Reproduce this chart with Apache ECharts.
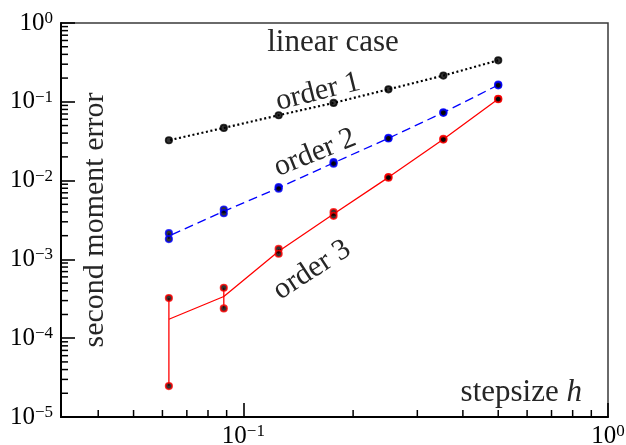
<!DOCTYPE html>
<html><head><meta charset="utf-8">
<script src="https://cdn.jsdelivr.net/npm/echarts@6/dist/echarts.min.js"></script>
<style>html,body{margin:0;padding:0;background:#fff}#c{width:626px;height:445px}</style>
</head><body><div id="c"></div>
<script>
// ---- data ----
const stepsizes = [0.5, 0.3536, 0.25, 0.1768, 0.125, 0.0884, 0.0625];
const order1Err  = [0.336, 0.215, 0.144, 0.0968, 0.0675, 0.0466, 0.0325];
const order2ErrA = [0.165, 0.0735, 0.0348, 0.0172, 0.0083, 0.0043, 0.00215];
const order2ErrB = [0.162, 0.0725, 0.0342, 0.0164, 0.0079, 0.00386, 0.00181];
const order3ErrA = [0.109, 0.0338, 0.0111, 0.00397, 0.00136, 0.000437, 0.000323];
const order3ErrB = [0.108, 0.0332, 0.0109, 0.00357, 0.00118, 0.000239, 0.0000247];
const xMinorTicks = [0.04, 0.05, 0.06, 0.07, 0.08, 0.09, 0.2, 0.3, 0.4, 0.5, 0.6, 0.7, 0.8, 0.9];
const yMinorTicks = [];
[1e-5, 1e-4, 1e-3, 1e-2, 1e-1].forEach(d => { for (let k = 2; k <= 9; k++) yMinorTicks.push(+(k * d).toPrecision(3)); });
const X_MIN = Math.pow(10, -1.5), X_MAX = 1, Y_MIN = 1e-5, Y_MAX = 1;

const FONT = "'Liberation Serif','DejaVu Serif',serif";
const TXT = '#262626';

function pairs(a) { return stepsizes.map((h, i) => [h, a[i]]); }
function means(a, b) { return stepsizes.map((h, i) => [h, (a[i] + b[i]) / 2]); }
function samples(a, b) { return pairs(a).concat(pairs(b)); }
function spans(a, b) { return stepsizes.map((h, i) => [h, a[i], b[i]]); }

function supLabel(v) {
  const l = Math.log10(v), e = Math.round(l);
  if (Math.abs(l - e) > 1e-6) return '';
  return '{b|10}{s|' + (e < 0 ? '\u2212' + (-e) : String(e)) + '}';
}
const labelRich = {
  b: { fontSize: 25, lineHeight: 26, fontFamily: FONT, color: '#000' },
  s: { fontSize: 17, lineHeight: 17, fontFamily: FONT, color: '#000', verticalAlign: 'top' }
};

function spanSeries(a, b, color) {
  return {
    type: 'custom', z: 3, silent: true,
    data: spans(a, b),
    renderItem: function (params, api) {
      const p1 = api.coord([api.value(0), api.value(1)]);
      const p2 = api.coord([api.value(0), api.value(2)]);
      return { type: 'line', shape: { x1: p1[0], y1: p1[1], x2: p2[0], y2: p2[1] },
               style: { stroke: color, lineWidth: 1.3 } };
    }
  };
}
function markerSeries(data, color) {
  return { type: 'scatter', z: 5, data: data, symbol: 'circle', symbolSize: 6.5,
           itemStyle: { color: '#000', borderColor: color, borderWidth: 1.7 } };
}

const chart = echarts.init(document.getElementById('c'), null, { renderer: 'canvas' });
chart.setOption({
  animation: false,
  backgroundColor: '#fff',
  grid: { left: 61, right: 18, top: 23, bottom: 28, containLabel: false, outerBoundsMode: 'none',
          show: true, borderColor: '#3a3a3a', borderWidth: 1.5 },
  xAxis: {
    type: 'log', logBase: 10, min: X_MIN, max: X_MAX,
    name: '{n|stepsize }{i|h}', nameLocation: 'end', nameGap: -26,
    nameTextStyle: { align: 'right', verticalAlign: 'bottom', padding: [0, 0, 9, 0],
      rich: { n: { fontSize: 31, fontFamily: FONT, color: TXT }, i: { fontSize: 31, fontFamily: FONT, fontStyle: 'italic', color: TXT } } },
    axisLine: { show: true, lineStyle: { color: '#000', width: 2 } },
    axisTick: { show: true, inside: true, length: 14, lineStyle: { color: '#000', width: 1.6 } },
    axisLabel: { formatter: supLabel, rich: labelRich, margin: 6, showMinLabel: false, hideOverlap: false },
    splitLine: { show: false }, minorTick: { show: false }
  },
  yAxis: {
    type: 'log', logBase: 10, min: Y_MIN, max: Y_MAX,
    name: 'second moment error', nameLocation: 'middle', nameGap: -34,
    nameTextStyle: { fontSize: 30, fontFamily: FONT, color: TXT, align: 'center', verticalAlign: 'middle' },
    axisLine: { show: true, lineStyle: { color: '#000', width: 2 } },
    axisTick: { show: true, inside: true, length: 14, lineStyle: { color: '#000', width: 1.6 } },
    axisLabel: { formatter: supLabel, rich: labelRich, margin: 8, hideOverlap: false },
    splitLine: { show: false }, minorTick: { show: false }
  },
  graphic: [
    { type: 'text', x: 333, y: 43, style: { text: 'linear case', fontSize: 31, fontFamily: FONT, fill: TXT, align: 'center', verticalAlign: 'middle' } },
    { type: 'text', x: 318, y: 92, rotation: 14 * Math.PI / 180, style: { text: 'order 1', fontSize: 30, fontFamily: FONT, fill: TXT, align: 'center', verticalAlign: 'middle' } },
    { type: 'text', x: 315, y: 153, rotation: 22 * Math.PI / 180, style: { text: 'order 2', fontSize: 30, fontFamily: FONT, fill: TXT, align: 'center', verticalAlign: 'middle' } },
    { type: 'text', x: 312, y: 270, rotation: 33 * Math.PI / 180, style: { text: 'order 3', fontSize: 30, fontFamily: FONT, fill: TXT, align: 'center', verticalAlign: 'middle' } }
  ],
  series: [
    { type: 'custom', z: 2, silent: true, clip: false,
      data: xMinorTicks.map(v => [v, Y_MIN]),
      renderItem: function (params, api) {
        const p = api.coord([api.value(0), api.value(1)]);
        return { type: 'line', shape: { x1: p[0], y1: p[1], x2: p[0], y2: p[1] - 7 }, style: { stroke: '#000', lineWidth: 1.5 } };
      } },
    { type: 'custom', z: 2, silent: true, clip: false,
      data: yMinorTicks.map(v => [X_MIN, v]),
      renderItem: function (params, api) {
        const p = api.coord([api.value(0), api.value(1)]);
        return { type: 'line', shape: { x1: p[0], y1: p[1], x2: p[0] + 7, y2: p[1] }, style: { stroke: '#000', lineWidth: 1.5 } };
      } },
    { type: 'line', z: 3, data: pairs(order1Err), showSymbol: false, symbol: 'none',
      lineStyle: { color: '#000', width: 2.2, type: [2, 2.6] } },
    markerSeries(pairs(order1Err), '#000'),
    { type: 'line', z: 3, data: means(order2ErrA, order2ErrB), showSymbol: false, symbol: 'none',
      lineStyle: { color: '#0000ff', width: 1.3, type: [9, 5] } },
    spanSeries(order2ErrA, order2ErrB, '#0000ff'),
    markerSeries(samples(order2ErrA, order2ErrB), '#0000ff'),
    { type: 'line', z: 3, data: means(order3ErrA, order3ErrB), showSymbol: false, symbol: 'none',
      lineStyle: { color: '#ff0000', width: 1.3 } },
    spanSeries(order3ErrA, order3ErrB, '#ff0000'),
    markerSeries(samples(order3ErrA, order3ErrB), '#ff0000')
  ]
});
</script>
</body></html>
